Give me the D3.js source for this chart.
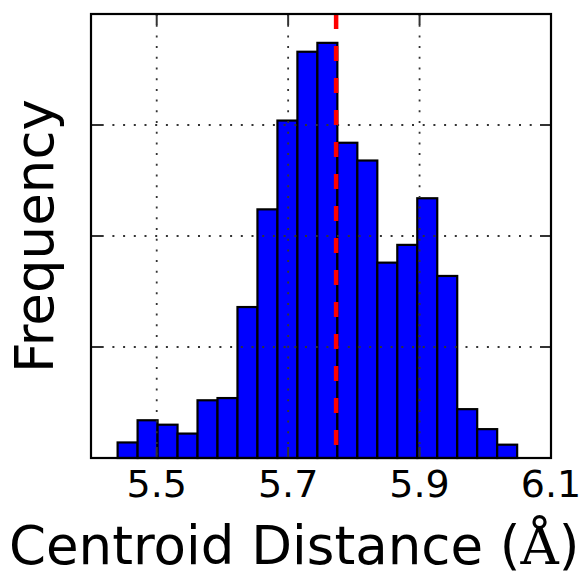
<!DOCTYPE html>
<html>
<head>
<meta charset="utf-8">
<script src="https://cdn.jsdelivr.net/npm/d3@7"></script>
<style>
    html, body { margin: 0; padding: 0; background: #fff; }
    svg { display: block; }
</style>
</head>
<body>
<div id="chart"></div>
<script>
// histogram bin edges (Å) and counts per bin
const binEdges = [5.4405, 5.4709, 5.5013, 5.5317, 5.5621, 5.5925, 5.6229, 5.6533, 5.6837, 5.7141,
    5.7445, 5.7749, 5.8053, 5.8357, 5.8661, 5.8965, 5.9269, 5.9573, 5.9877, 6.0181, 6.0485];
const counts = [7, 17, 15, 11, 26, 27, 68, 112, 152, 183, 187, 142, 134, 88, 96, 117, 82, 22, 13, 6];
const meanValue = 5.773;
const xTicks = [5.5, 5.7, 5.9, 6.1];
const yTicks = [0, 50, 100, 150, 200];

const width = 584;
const height = 573;
const margin = { left: 91, right: 33, top: 14, bottom: 115 };

const bins = counts.map((c, i) => ({ x0: binEdges[i], x1: binEdges[i + 1], count: c }));

const svg = d3.select("#chart")
    .append("svg")
    .attr("width", width)
    .attr("height", height);

const x = d3.scaleLinear()
    .domain([5.4, 6.1])
    .range([margin.left, width - margin.right]);

const y = d3.scaleLinear()
    .domain([0, 200])
    .range([height - margin.bottom, margin.top]);

const x0 = x.range()[0], x1 = x.range()[1];
const y0 = y.range()[0], y1 = y.range()[1];

// bars
svg.append("g")
    .selectAll("rect")
    .data(bins)
    .enter()
    .append("rect")
    .attr("x", d => x(d.x0))
    .attr("y", d => y(d.count))
    .attr("width", d => x(d.x1) - x(d.x0))
    .attr("height", d => y(0) - y(d.count))
    .attr("fill", "#0000ff")
    .attr("stroke", "#000")
    .attr("stroke-width", 2.2);

// dotted grid drawn over the bars
const grid = svg.append("g")
    .attr("stroke", "#333")
    .attr("stroke-width", 1.8)
    .attr("stroke-dasharray", "2,8.7");

grid.selectAll("line.vx")
    .data(xTicks)
    .enter()
    .append("line")
    .attr("x1", d => x(d))
    .attr("x2", d => x(d))
    .attr("y1", y1)
    .attr("y2", y0);

grid.selectAll("line.hy")
    .data(yTicks)
    .enter()
    .append("line")
    .attr("x1", x0)
    .attr("x2", x1)
    .attr("y1", d => y(d))
    .attr("y2", d => y(d));

// mean line
svg.append("line")
    .attr("x1", x(meanValue))
    .attr("x2", x(meanValue))
    .attr("y1", y1)
    .attr("y2", y0)
    .attr("stroke", "#ff0000")
    .attr("stroke-width", 4.5)
    .attr("stroke-dasharray", "15,17");

// inward ticks on all four sides
const tickLen = 11;
const ticks = svg.append("g")
    .attr("stroke", "#333")
    .attr("stroke-width", 2);

xTicks.forEach(t => {
    ticks.append("line").attr("x1", x(t)).attr("x2", x(t)).attr("y1", y0).attr("y2", y0 - tickLen);
    ticks.append("line").attr("x1", x(t)).attr("x2", x(t)).attr("y1", y1).attr("y2", y1 + tickLen);
});
yTicks.forEach(t => {
    ticks.append("line").attr("x1", x0).attr("x2", x0 + tickLen).attr("y1", y(t)).attr("y2", y(t));
    ticks.append("line").attr("x1", x1).attr("x2", x1 - tickLen).attr("y1", y(t)).attr("y2", y(t));
});

// frame
svg.append("rect")
    .attr("x", x0)
    .attr("y", y1)
    .attr("width", x1 - x0)
    .attr("height", y0 - y1)
    .attr("fill", "none")
    .attr("stroke", "#000")
    .attr("stroke-width", 2.2);

// tick labels
svg.append("g")
    .selectAll("text")
    .data(xTicks)
    .enter()
    .append("text")
    .attr("x", d => x(d))
    .attr("y", 497)
    .attr("text-anchor", "middle")
    .attr("font-family", "DejaVu Sans")
    .attr("font-size", 38)
    .attr("fill", "#000")
    .text(d => d3.format(".1f")(d));

// axis labels
const xLabel = svg.append("text")
    .attr("x", 9)
    .attr("y", 564)
    .attr("font-family", "DejaVu Sans")
    .attr("font-size", 53)
    .attr("fill", "#000");
xLabel.append("tspan").text("Centroid Distance (");
xLabel.append("tspan").attr("font-family", "DejaVu Serif").text("Å");
xLabel.append("tspan").text(")");

svg.append("text")
    .attr("transform", `translate(53,${(y0 + y1) / 2}) rotate(-90)`)
    .attr("text-anchor", "middle")
    .attr("font-family", "DejaVu Sans")
    .attr("font-size", 53)
    .attr("fill", "#000")
    .text("Frequency");
</script>
</body>
</html>
